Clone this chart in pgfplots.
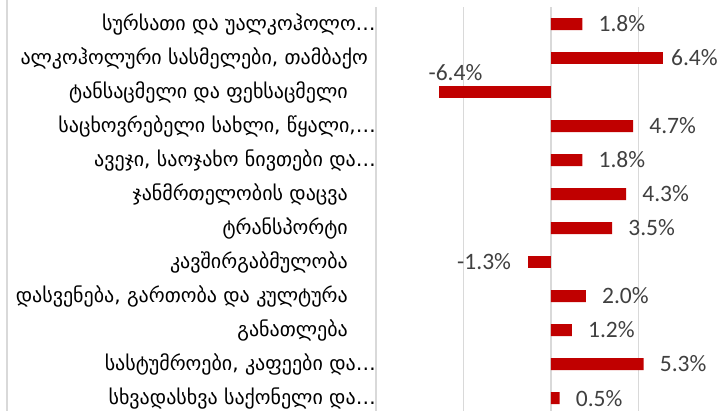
\documentclass[border=0pt]{standalone}
\usepackage{pgfplots}
\pgfplotsset{compat=1.18}
\usepackage{fontspec}
\setmainfont{Carlito}
\newfontfamily\geo[Script=Georgian]{DejaVu Sans}
\definecolor{barred}{HTML}{C00000}
\definecolor{gridgray}{HTML}{D9D9D9}
\definecolor{lbl}{HTML}{404040}
\begin{document}
\begin{tikzpicture}
\begin{axis}[
  scale only axis, width=342bp, height=404bp,
  xmin=-10, xmax=9.55, ymin=-0.5, ymax=11.38, y dir=reverse,
  xbar, bar width=12bp, bar shift=0pt,
  xtick={-10,-5,0,5}, xticklabels={}, xmajorgrids,
  grid style={gridgray, line width=1.5bp},
  ytick={0,...,11},
  yticklabels={
    {სურსათი და უალკოჰოლო…\hspace*{-28bp}},
    {ალკოჰოლური სასმელები, თამბაქო\hspace*{-20bp}},
    {ტანსაცმელი და ფეხსაცმელი},
    {საცხოვრებელი სახლი, წყალი,…\hspace*{-28bp}},
    {ავეჯი, საოჯახო ნივთები და…\hspace*{-28bp}},
    {ჯანმრთელობის დაცვა},
    {ტრანსპორტი},
    {კავშირგაბმულობა},
    {დასვენება, გართობა და კულტურა},
    {განათლება},
    {სასტუმროები, კაფეები და…\hspace*{-28bp}},
    {სხვადასხვა საქონელი და…\hspace*{-28bp}}},
  yticklabel style={font=\geo\fontsize{20bp}{24bp}\selectfont, text=black, anchor=east, inner sep=0pt, xshift=-28bp},
  axis line style={draw=none}, major tick length=0pt,
  clip=false,
  point meta=explicit symbolic,
  nodes near coords,
  every node near coord/.append style={font=\fontsize{23.5bp}{28bp}\selectfont, text=lbl, inner sep=0pt},
]
\addplot[fill=barred, draw=none,
  every node near coord/.append style={anchor=west, xshift=16bp}]
  coordinates {(1.8,0) [1.8\%] (4.7,3) [4.7\%] (1.8,4) [1.8\%] (4.3,5) [4.3\%]
               (3.5,6) [3.5\%] (2.0,8) [2.0\%] (1.2,9) [1.2\%] (5.3,10) [5.3\%] (0.5,11) [0.5\%]};
\addplot[fill=barred, draw=none,
  every node near coord/.append style={anchor=west, xshift=8bp}]
  coordinates {(6.4,1) [6.4\%]};
\addplot[fill=barred, draw=none,
  every node near coord/.append style={anchor=center, xshift=16.5bp, yshift=19.5bp}]
  coordinates {(-6.4,2) [-6.4\%]};
\addplot[fill=barred, draw=none,
  every node near coord/.append style={anchor=east, xshift=-17bp}]
  coordinates {(-1.3,7) [-1.3\%]};
\end{axis}
\draw[gridgray, line width=1.2bp] ([xshift=-369bp]current axis.south west) -- ([xshift=-369bp, yshift=7bp]current axis.north west);
\pgfresetboundingbox
\path ([xshift=-376bp]current axis.south west) rectangle ([yshift=7bp]current axis.north east);
\end{tikzpicture}
\end{document}
